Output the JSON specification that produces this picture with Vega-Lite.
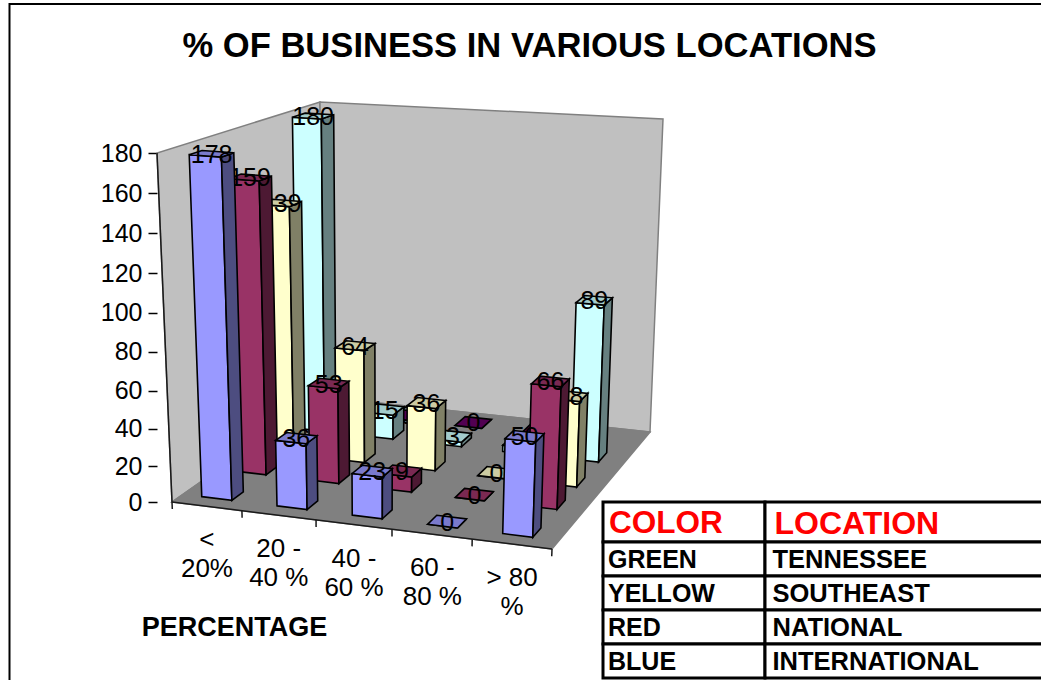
{
"$schema":"https://vega.github.io/schema/vega-lite/v6.json",
"width":1041,"height":680,"padding":0,"autosize":{"type":"none"},
"background":"white",
"view":{"stroke":null},
"config":{"legend":{"disable":true},"view":{"stroke":null},"font":"Liberation Sans"},
"title":{"text":"% OF BUSINESS IN VARIOUS LOCATIONS","font":"Liberation Sans","fontSize":34.6,"fontWeight":"bold","color":"black","anchor":"middle","dx":9,"offset":-65,"frame":"group"},
"datasets":{
"bars":[
{"pct":"< 20%","location":"UNLISTED","value":0},{"pct":"20 - 40 %","location":"UNLISTED","value":0},{"pct":"40 - 60 %","location":"UNLISTED","value":0},{"pct":"60 - 80 %","location":"UNLISTED","value":0},
{"pct":"< 20%","location":"TENNESSEE","value":180},{"pct":"20 - 40 %","location":"TENNESSEE","value":15},{"pct":"40 - 60 %","location":"TENNESSEE","value":3},{"pct":"60 - 80 %","location":"TENNESSEE","value":4},{"pct":"> 80 %","location":"TENNESSEE","value":89},
{"pct":"< 20%","location":"SOUTHEAST","value":139},{"pct":"20 - 40 %","location":"SOUTHEAST","value":64},{"pct":"40 - 60 %","location":"SOUTHEAST","value":36},{"pct":"60 - 80 %","location":"SOUTHEAST","value":0},{"pct":"> 80 %","location":"SOUTHEAST","value":48},
{"pct":"< 20%","location":"NATIONAL","value":159},{"pct":"20 - 40 %","location":"NATIONAL","value":53},{"pct":"40 - 60 %","location":"NATIONAL","value":9},{"pct":"60 - 80 %","location":"NATIONAL","value":0},{"pct":"> 80 %","location":"NATIONAL","value":66},
{"pct":"< 20%","location":"INTERNATIONAL","value":178},{"pct":"20 - 40 %","location":"INTERNATIONAL","value":36},{"pct":"40 - 60 %","location":"INTERNATIONAL","value":23},{"pct":"60 - 80 %","location":"INTERNATIONAL","value":0},{"pct":"> 80 %","location":"INTERNATIONAL","value":50}
]},
"layer":[
{
"encoding":{
"x":{"field":"X","type":"quantitative","scale":{"domain":[0,1],"range":[172,552],"zero":false,"nice":false},
"axis":{"labels":false,"ticks":false,"domain":false,"grid":false,"title":"PERCENTAGE","titleFont":"Liberation Sans","titleFontSize":27,"titleFontWeight":"bold","titleColor":"black","titleX":234,"titleY":-53,"titleAnchor":"middle","titleBaseline":"middle","titleAlign":"center"}},
"y":{"field":"Y","type":"quantitative","scale":{"type":"pow","exponent":1.04,"domain":[0,180],"range":[502,153],"zero":false,"nice":false},
"axis":{"values":[0,20,40,60,80,100,120,140,160,180],"title":null,"grid":false,"domain":false,"offset":-157,"tickSize":9,"tickColor":"black","tickWidth":1.5,"labelPadding":6,"labelFont":"Liberation Sans","labelFontSize":25,"labelColor":"black","labelOverlap":false,"labelBound":false,
"encoding":{"ticks":{"update":{"x":{"signal":"15*(180-datum.value)/180"},"x2":{"signal":"15*(180-datum.value)/180-9"}}},"labels":{"update":{"dx":{"signal":"15*(180-datum.value)/180"}}}}}}
},
"layer":[
{"data":{"values":[{"part":"left"},{"part":"back"},{"part":"floor"}]},
"transform":[
{"calculate":"{'floor':[[0,0,0,0],[1,0,0,1],[1,1,0,2],[0,1,0,3]],'left':[[0,0,0,0],[0,0,1,1],[0,1,1,2],[0,1,0,3]],'back':[[0,1,0,0],[0,1,1,1],[1,1,1,2],[1,1,0,3]]}[datum.part]","as":"p"},
{"flatten":["p"]},
{"calculate":"datum.p[0]","as":"U"},{"calculate":"datum.p[1]","as":"V"},{"calculate":"datum.p[2]","as":"H"},{"calculate":"datum.p[3]","as":"i"},
{"calculate":"(1-datum.H)*((1-datum.V)*((1-datum.U)*172+datum.U*552)+datum.V*((1-datum.U)*322+datum.U*650))+datum.H*((1-datum.V)*((1-datum.U)*157+datum.U*565)+datum.V*((1-datum.U)*320+datum.U*663))","as":"Xpx"},
{"calculate":"(1-datum.H)*((1-datum.V)*((1-datum.U)*502+datum.U*549)+datum.V*((1-datum.U)*397+datum.U*432))+datum.H*((1-datum.V)*((1-datum.U)*153+datum.U*183)+datum.V*((1-datum.U)*102+datum.U*119))","as":"Ypx"},
{"calculate":"(datum.Xpx-172)/380","as":"X"},{"calculate":"(502-datum.Ypx)/349","as":"d"},{"calculate":"180*(datum.d<0?-1:1)*pow(abs(datum.d),1/1.04)","as":"Y"}
],
"mark":{"type":"line","interpolate":"linear-closed","stroke":"#808080","strokeWidth":1.5},
"encoding":{"fill":{"field":"part","type":"nominal","scale":{"domain":["left","back","floor","0front","0side","0top","1front","1side","1top","2front","2side","2top","3front","3side","3top","4front","4side","4top"],"range":["#C0C0C0","#C0C0C0","#808080","#9999FF","#4D4D80","#7A7ACC","#993366","#4D1933","#7A2952","#FFFFCC","#808066","#CCCCA3","#CCFFFF","#668080","#A3CCCC","#660066","#330033","#520052"]}},"order":{"field":"i","type":"quantitative"}}
},
{"data":{"values":[{"part":"front"},{"part":"axis"},{"part":"t0"},{"part":"t1"},{"part":"t2"},{"part":"t3"},{"part":"t4"},{"part":"t5"}]},
"transform":[
{"calculate":"{'front':[[0,0,0,0],[1,0,0,1]],'axis':[[0,0,0,0],[0,0,1,1]],'t0':[[0,0,0,0],[0,0,-0.02,1]],'t1':[[0.184,0,0,0],[0.184,0,-0.02,1]],'t2':[[0.379,0,0,0],[0.379,0,-0.02,1]],'t3':[[0.579,0,0,0],[0.579,0,-0.02,1]],'t4':[[0.79,0,0,0],[0.79,0,-0.02,1]],'t5':[[1,0,0,0],[1,0,-0.02,1]]}[datum.part]","as":"p"},
{"flatten":["p"]},
{"calculate":"datum.p[0]","as":"U"},{"calculate":"datum.p[1]","as":"V"},{"calculate":"datum.p[2]","as":"H"},{"calculate":"datum.p[3]","as":"i"},
{"calculate":"(1-datum.H)*((1-datum.V)*((1-datum.U)*172+datum.U*552)+datum.V*((1-datum.U)*322+datum.U*650))+datum.H*((1-datum.V)*((1-datum.U)*157+datum.U*565)+datum.V*((1-datum.U)*320+datum.U*663))","as":"Xpx"},
{"calculate":"(1-datum.H)*((1-datum.V)*((1-datum.U)*502+datum.U*549)+datum.V*((1-datum.U)*397+datum.U*432))+datum.H*((1-datum.V)*((1-datum.U)*153+datum.U*183)+datum.V*((1-datum.U)*102+datum.U*119))","as":"Ypx"},
{"calculate":"(datum.Xpx-172)/380","as":"X"},{"calculate":"(502-datum.Ypx)/349","as":"d"},{"calculate":"180*(datum.d<0?-1:1)*pow(abs(datum.d),1/1.04)","as":"Y"}
],
"mark":{"type":"line","stroke":"#1a1a1a","strokeWidth":1.5},
"encoding":{"detail":{"field":"part"},"order":{"field":"i","type":"quantitative"}}
},
{"data":{"values":[{"pct":"< 20%","label":"<\n20%","U":0.092},{"pct":"20 - 40 %","label":"20 -\n40 %","U":0.281},{"pct":"40 - 60 %","label":"40 -\n60 %","U":0.479},{"pct":"60 - 80 %","label":"60 -\n80 %","U":0.685},{"pct":"> 80 %","label":"> 80\n%","U":0.895}]},
"transform":[
{"calculate":"172*(1-datum.U)+552*datum.U","as":"Xpx"},
{"calculate":"502*(1-datum.U)+549*datum.U+34","as":"Ypx"},
{"calculate":"(datum.Xpx-172)/380","as":"X"},{"calculate":"(502-datum.Ypx)/349","as":"d"},{"calculate":"180*(datum.d<0?-1:1)*pow(abs(datum.d),1/1.04)","as":"Y"}
],
"mark":{"type":"text","fontSize":26,"font":"Liberation Sans","lineBreak":"\n","lineHeight":29,"align":"center","baseline":"middle","color":"black"},
"encoding":{"text":{"field":"label"}}
},
{"data":{"name":"bars"},
"transform":[
{"calculate":"indexof(['< 20%','20 - 40 %','40 - 60 %','60 - 80 %','> 80 %'],datum.pct)","as":"c"},
{"calculate":"indexof(['INTERNATIONAL','NATIONAL','SOUTHEAST','TENNESSEE','UNLISTED'],datum.location)","as":"s"},
{"calculate":"['front','side','top','label']","as":"face"},{"flatten":["face"]},
{"calculate":"[0,1,2,3]","as":"corner"},{"flatten":["corner"]},
{"calculate":"datum.face=='label'?0:(datum.face=='side'?1:((datum.corner==1||datum.corner==2)?1:-1))","as":"su"},
{"calculate":"datum.face=='label'?0:(datum.face=='front'?-1:(datum.face=='side'?((datum.corner==1||datum.corner==2)?1:-1):(datum.corner>=2?1:-1)))","as":"sv"},
{"calculate":"(datum.face=='label'||datum.face=='top')?1:(datum.corner>=2?1:0)","as":"hf"},
{"calculate":"0.09+0.2*datum.c+0.04*datum.su","as":"U"},
{"calculate":"[0.113,0.352,0.545,0.76,0.925][datum.s]+0.04*datum.sv","as":"V"},
{"calculate":"datum.hf*pow(datum.value/180,1.04)","as":"H"},
{"calculate":"(1-datum.H)*((1-datum.V)*((1-datum.U)*172+datum.U*552)+datum.V*((1-datum.U)*322+datum.U*650))+datum.H*((1-datum.V)*((1-datum.U)*157+datum.U*565)+datum.V*((1-datum.U)*320+datum.U*663))","as":"Xpx"},
{"calculate":"(1-datum.H)*((1-datum.V)*((1-datum.U)*502+datum.U*549)+datum.V*((1-datum.U)*397+datum.U*432))+datum.H*((1-datum.V)*((1-datum.U)*153+datum.U*183)+datum.V*((1-datum.U)*102+datum.U*119))","as":"Ypx"},
{"calculate":"(datum.Xpx-172)/380","as":"X"},{"calculate":"(502-datum.Ypx)/349","as":"d"},{"calculate":"180*(datum.d<0?-1:1)*pow(abs(datum.d),1/1.04)","as":"Y"},
{"calculate":"datum.s+datum.face","as":"paint"},
{"calculate":"datum.pct+datum.location+datum.face","as":"id"}
],
"layer":[
{"transform":[{"filter":"datum.s==4&&datum.face!='label'"}],"mark":{"type":"line","interpolate":"linear-closed","stroke":"black","strokeWidth":1.6},"encoding":{"fill":{"field":"paint","type":"nominal"},"detail":{"field":"id"},"order":{"field":"corner","type":"quantitative"}}},
{"transform":[{"filter":"datum.s==4&&datum.face=='label'&&datum.corner==0&&datum.pct!='< 20%'&&datum.pct!='60 - 80 %'"}],"mark":{"type":"text","fontSize":25,"dy":1,"font":"Liberation Sans","color":"black","align":"center","baseline":"middle"},"encoding":{"text":{"field":"value","type":"quantitative"}}},
{"transform":[{"filter":"datum.s==3&&datum.face!='label'"}],"mark":{"type":"line","interpolate":"linear-closed","stroke":"black","strokeWidth":1.6},"encoding":{"fill":{"field":"paint","type":"nominal"},"detail":{"field":"id"},"order":{"field":"corner","type":"quantitative"}}},
{"transform":[{"filter":"datum.s==3&&datum.face=='label'&&datum.corner==0"}],"mark":{"type":"text","fontSize":25,"dy":1,"font":"Liberation Sans","color":"black","align":"center","baseline":"middle"},"encoding":{"text":{"field":"value","type":"quantitative"}}},
{"transform":[{"filter":"datum.s==2&&datum.face!='label'"}],"mark":{"type":"line","interpolate":"linear-closed","stroke":"black","strokeWidth":1.6},"encoding":{"fill":{"field":"paint","type":"nominal"},"detail":{"field":"id"},"order":{"field":"corner","type":"quantitative"}}},
{"transform":[{"filter":"datum.s==2&&datum.face=='label'&&datum.corner==0"}],"mark":{"type":"text","fontSize":25,"dy":1,"font":"Liberation Sans","color":"black","align":"center","baseline":"middle"},"encoding":{"text":{"field":"value","type":"quantitative"}}},
{"transform":[{"filter":"datum.s==1&&datum.face!='label'"}],"mark":{"type":"line","interpolate":"linear-closed","stroke":"black","strokeWidth":1.6},"encoding":{"fill":{"field":"paint","type":"nominal"},"detail":{"field":"id"},"order":{"field":"corner","type":"quantitative"}}},
{"transform":[{"filter":"datum.s==1&&datum.face=='label'&&datum.corner==0"}],"mark":{"type":"text","fontSize":25,"dy":1,"font":"Liberation Sans","color":"black","align":"center","baseline":"middle"},"encoding":{"text":{"field":"value","type":"quantitative"}}},
{"transform":[{"filter":"datum.s==0&&datum.face!='label'"}],"mark":{"type":"line","interpolate":"linear-closed","stroke":"black","strokeWidth":1.6},"encoding":{"fill":{"field":"paint","type":"nominal"},"detail":{"field":"id"},"order":{"field":"corner","type":"quantitative"}}},
{"transform":[{"filter":"datum.s==0&&datum.face=='label'&&datum.corner==0"}],"mark":{"type":"text","fontSize":25,"dy":1,"font":"Liberation Sans","color":"black","align":"center","baseline":"middle"},"encoding":{"text":{"field":"value","type":"quantitative"}}}
]},
{"data":{"values":[{"i":0},{"i":1},{"i":2}]},
"transform":[
{"calculate":"([9.5,9.5,1041][datum.i]-172)/380","as":"X"},
{"calculate":"(502-[680,4,4][datum.i])/349","as":"d"},
{"calculate":"180*(datum.d<0?-1:1)*pow(abs(datum.d),1/1.04)","as":"Y"}
],
"mark":{"type":"line","stroke":"black","strokeWidth":2},
"encoding":{"order":{"field":"i","type":"quantitative"}}}
]
},
{"data":{"values":[{"t":"COLOR"}]},"encoding":{"x":{"field":"t","type":"nominal","scale":{"type":"band","domain":["COLOR"],"range":[603,765],"paddingInner":0,"paddingOuter":0},"axis":null},"y":{"field":"t","type":"nominal","scale":{"type":"band","domain":["COLOR"],"range":[502,542],"paddingInner":0,"paddingOuter":0},"axis":null}},
"layer":[{"mark":{"type":"rect","fill":"white","stroke":"black","strokeWidth":3}},{"mark":{"type":"text","align":"left","dx":-75,"dy":2,"fontSize":31.5,"fontWeight":"bold","font":"Liberation Sans","color":"red","baseline":"middle"},"encoding":{"text":{"field":"t"}}}]},
{"data":{"values":[{"t":"LOCATION"}]},"encoding":{"x":{"field":"t","type":"nominal","scale":{"type":"band","domain":["LOCATION"],"range":[765,1100],"paddingInner":0,"paddingOuter":0},"axis":null},"y":{"field":"t","type":"nominal","scale":{"type":"band","domain":["LOCATION"],"range":[502,542],"paddingInner":0,"paddingOuter":0},"axis":null}},
"layer":[{"mark":{"type":"rect","fill":"white","stroke":"black","strokeWidth":3}},{"mark":{"type":"text","align":"left","dx":-158,"dy":2,"fontSize":32,"fontWeight":"bold","font":"Liberation Sans","color":"red","baseline":"middle"},"encoding":{"text":{"field":"t"}}}]},
{"data":{"values":[{"c":"GREEN"},{"c":"YELLOW"},{"c":"RED"},{"c":"BLUE"}]},"encoding":{"x":{"datum":"COLOR","type":"nominal","scale":{"type":"band","domain":["COLOR"],"range":[603,765],"paddingInner":0,"paddingOuter":0},"axis":null},"y":{"field":"c","type":"nominal","sort":null,"scale":{"type":"band","domain":["GREEN","YELLOW","RED","BLUE"],"range":[542,678],"paddingInner":0,"paddingOuter":0},"axis":null}},
"layer":[{"mark":{"type":"rect","fill":"white","stroke":"black","strokeWidth":3}},{"mark":{"type":"text","align":"left","dx":-76,"dy":1,"fontSize":25,"fontWeight":"bold","font":"Liberation Sans","color":"black","baseline":"middle"},"encoding":{"text":{"field":"c"}}}]},
{"data":{"values":[{"c":"TENNESSEE"},{"c":"SOUTHEAST"},{"c":"NATIONAL"},{"c":"INTERNATIONAL"}]},"encoding":{"x":{"datum":"LOCATION","type":"nominal","scale":{"type":"band","domain":["LOCATION"],"range":[765,1100],"paddingInner":0,"paddingOuter":0},"axis":null},"y":{"field":"c","type":"nominal","sort":null,"scale":{"type":"band","domain":["TENNESSEE","SOUTHEAST","NATIONAL","INTERNATIONAL"],"range":[542,678],"paddingInner":0,"paddingOuter":0},"axis":null}},
"layer":[{"mark":{"type":"rect","fill":"white","stroke":"black","strokeWidth":3}},{"mark":{"type":"text","align":"left","dx":-160,"dy":1,"fontSize":25.5,"fontWeight":"bold","font":"Liberation Sans","color":"black","baseline":"middle"},"encoding":{"text":{"field":"c"}}}]}
],
"resolve":{"scale":{"x":"independent","y":"independent"},"axis":{"x":"independent","y":"independent"}}
}
